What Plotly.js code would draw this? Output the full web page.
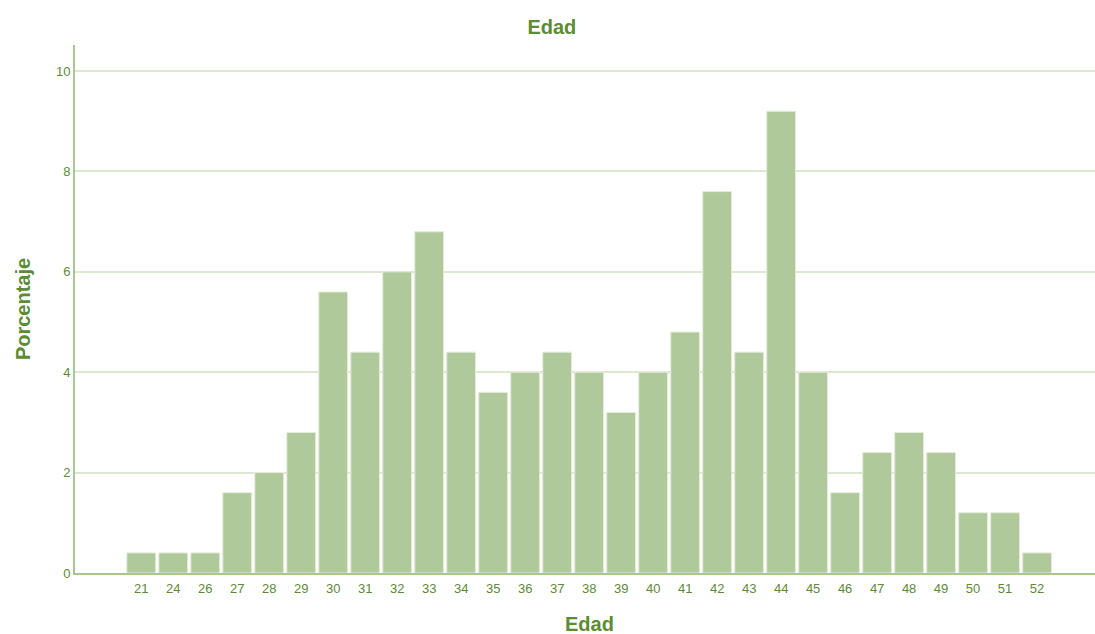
<!DOCTYPE html>
<html>
<head>
<meta charset="utf-8">
<script src="https://cdn.plot.ly/plotly-3.0.1.min.js"></script>
<style>html,body{margin:0;padding:0;background:#fff;}#chart{width:1095px;height:634px;}</style>
</head>
<body>
<div id="chart"></div>
<script>
const categories = ["21","24","26","27","28","29","30","31","32","33","34","35","36","37","38","39","40","41","42","43","44","45","46","47","48","49","50","51","52"];
const percentages = [0.4,0.4,0.4,1.6,2.0,2.8,5.6,4.4,6.0,6.8,4.4,3.6,4.0,4.4,4.0,3.2,4.0,4.8,7.6,4.4,9.2,4.0,1.6,2.4,2.8,2.4,1.2,1.2,0.4];
const yTicks = [0,2,4,6,8,10];

const green = "#5b8c32";
const font = "Liberation Sans, Arial, sans-serif";

Plotly.newPlot("chart", [{
  type: "bar",
  x: categories,
  y: percentages,
  marker: {color: "#afc99b", line: {color: "#e4ecdc", width: 1}},
  hoverinfo: "x+y"
}], {
  width: 1095, height: 634,
  margin: {l: 75, r: 0, t: 45, b: 61},
  paper_bgcolor: "#fff", plot_bgcolor: "#fff",
  bargap: 0.1,
  showlegend: false,
  title: {text: "<b>Edad</b>", x: 0.504, xanchor: "center", y: 1 - 27/634, yanchor: "middle",
          font: {family: font, size: 20, color: green}},
  annotations: [{
    text: "<b>Edad</b>", xref: "paper", yref: "paper", x: 0.504, y: (573 - 624) / 528,
    xanchor: "center", yanchor: "middle", showarrow: false,
    font: {family: font, size: 20, color: green}
  }],
  xaxis: {
    type: "category",
    range: [-2.07, 29.81],
    showgrid: false, zeroline: false,
    showline: true, linecolor: "#a9c594", linewidth: 2,
    ticks: "", tickfont: {family: font, size: 13, color: green},
    ticklabelstandoff: 2
  },
  yaxis: {
    range: [0, 10.52],
    tickvals: yTicks,
    showgrid: true, gridcolor: "#dde8d3", gridwidth: 2,
    zeroline: false,
    showline: true, linecolor: "#a9c594", linewidth: 2,
    ticks: "", tickfont: {family: font, size: 13, color: green},
    title: {text: "<b>Porcentaje</b>", font: {family: font, size: 20, color: green}, standoff: 20}
  }
}, {displayModeBar: false, staticPlot: false});
</script>
</body>
</html>
